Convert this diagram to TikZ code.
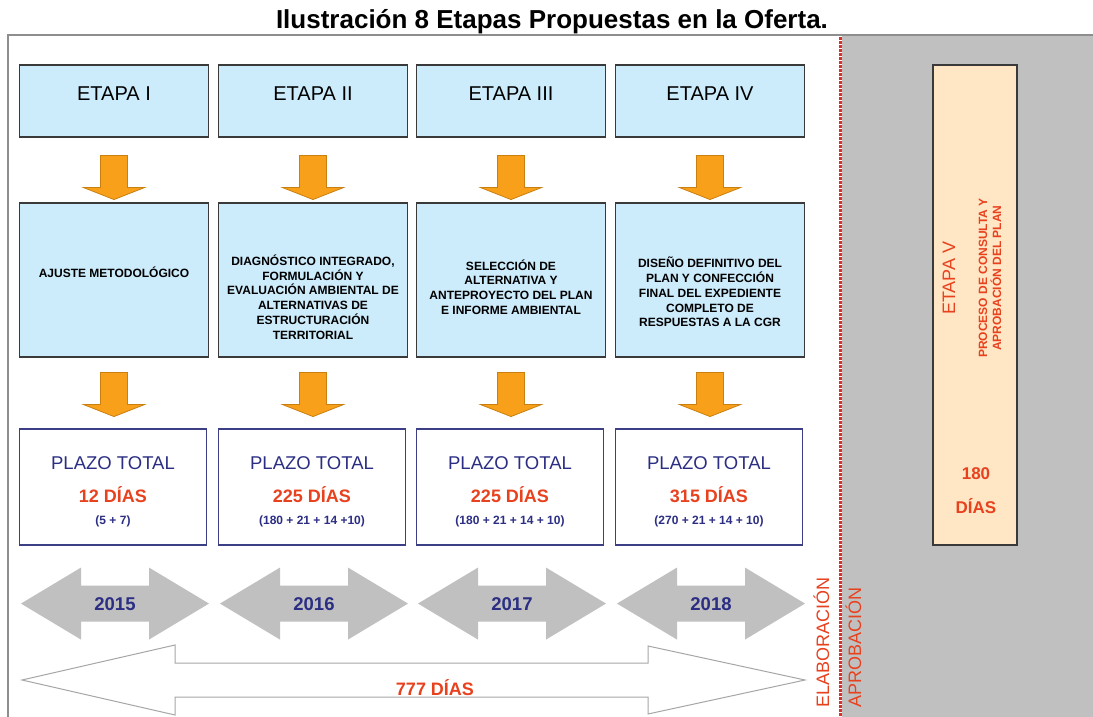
\documentclass[tikz,border=0pt]{standalone}
\usepackage{fontspec}
\setmainfont{Liberation Sans}
\usetikzlibrary{calc}
\definecolor{boxblue}{HTML}{CCEBFB}
\definecolor{boxline}{HTML}{3A3A3A}
\definecolor{navy}{HTML}{2B2E83}
\definecolor{navyline}{HTML}{3C3F85}
\definecolor{redtxt}{HTML}{E8411E}
\definecolor{orfill}{HTML}{F9A01B}
\definecolor{orline}{HTML}{C9800F}
\definecolor{yeargray}{HTML}{C0C0C0}
\definecolor{bggray}{HTML}{C0C0C0}
\definecolor{framegray}{HTML}{8E8E8E}
\definecolor{peach}{HTML}{FFE7C6}
\definecolor{dotred}{HTML}{D9302A}
\definecolor{outgray}{HTML}{A6A6A6}
\newcommand{\pxfont}[2]{\fontsize{#1}{#2}\selectfont}
\tikzset{
  topbox/.style={draw=boxline, fill=boxblue, line width=1.1pt, minimum width=189pt, minimum height=72pt, inner sep=0pt},
  midbox/.style={draw=boxline, fill=boxblue, line width=1.1pt, minimum width=189pt, minimum height=154pt, inner sep=0pt},
  botbox/.style={draw=navyline, fill=white, line width=1.1pt, minimum width=187pt, minimum height=116pt, inner sep=0pt},
  etapatxt/.style={inner sep=0pt, anchor=base, font=\pxfont{20}{24}, text=black},
  midtxt/.style={inner sep=0pt, align=center, font=\pxfont{12}{14.8}\bfseries, text=black},
  plazotxt/.style={inner sep=0pt, anchor=base, font=\pxfont{18.5}{22}, text=navy},
  diastxt/.style={inner sep=0pt, anchor=base, font=\pxfont{18}{22}\bfseries, text=redtxt},
  sumtxt/.style={inner sep=0pt, anchor=base, font=\pxfont{12}{14}\bfseries, text=navy},
  yeartxt/.style={inner sep=0pt, anchor=base, font=\pxfont{18.5}{22}\bfseries, text=navy},
  vredtxt/.style={inner sep=0pt, rotate=90, text=redtxt},
  orarr/.pic={\filldraw[draw=orline, fill=orfill, line width=0.8pt]
     (-13.5,0) -- (-13.5,-32) -- (-30.5,-32) -- (0,-44) -- (30.5,-32) -- (13.5,-32) -- (13.5,0) -- cycle;},
  yeararr/.pic={\fill[yeargray]
     (-94,0) -- (-34,36) -- (-34,18) -- (34,18) -- (34,36) -- (94,0) -- (34,-36) -- (34,-18) -- (-34,-18) -- (-34,-36) -- cycle;}
}
\begin{document}
\begin{tikzpicture}[x=1pt,y=1pt]
\useasboundingbox (0,0) rectangle (1093,-717);
\fill[white] (0,0) rectangle (1093,-717);

% title
\node[inner sep=0pt, anchor=base, font=\pxfont{26}{30}\bfseries] (title) at (552,-29) {Ilustración 8 Etapas Propuestas en la Oferta.};

% background region and frame
\fill[bggray] (842,-36) rectangle (1093,-717);
\draw[framegray, line width=2pt] (8,-717) -- (8,-35) -- (1093,-35);
\foreach \k in {0,...,170}{
  \fill[dotred] (838.6,{-37-4*\k}) rectangle (841.6,{-39.6-4*\k});
}

% top boxes
\node[topbox] (t1) at (114,-101) {};
\node[topbox] (t2) at (313,-101) {};
\node[topbox] (t3) at (511,-101) {};
\node[topbox] (t4) at (710,-101) {};
\node[etapatxt] (tt1) at (114,-100) {ETAPA I};
\node[etapatxt] (tt2) at (313,-100) {ETAPA II};
\node[etapatxt] (tt3) at (511,-100) {ETAPA III};
\node[etapatxt] (tt4) at (710,-100) {ETAPA IV};

% middle boxes
\node[midbox] (m1) at (114,-280) {};
\node[midbox] (m2) at (313,-280) {};
\node[midbox] (m3) at (511,-280) {};
\node[midbox] (m4) at (710,-280) {};
\node[midtxt] (mt1) at (114,-272) {AJUSTE METODOLÓGICO};
\node[midtxt] (mt2) at (313,-297) {DIAGNÓSTICO INTEGRADO,\\FORMULACIÓN Y\\EVALUACIÓN AMBIENTAL DE\\ALTERNATIVAS DE\\ESTRUCTURACIÓN\\TERRITORIAL};
\node[midtxt] (mt3) at (511,-287) {SELECCIÓN DE\\ALTERNATIVA Y\\ANTEPROYECTO DEL PLAN\\E INFORME AMBIENTAL};
\node[midtxt] (mt4) at (710,-292) {DISEÑO DEFINITIVO DEL\\PLAN Y CONFECCIÓN\\FINAL DEL EXPEDIENTE\\COMPLETO DE\\RESPUESTAS A LA CGR};

% bottom boxes
\node[botbox] (b1) at (113,-487) {};
\node[botbox] (b2) at (312,-487) {};
\node[botbox] (b3) at (510,-487) {};
\node[botbox] (b4) at (709,-487) {};
\foreach \i/\x/\d/\s in {1/113/12 DÍAS/(5 + 7), 2/312/225 DÍAS/(180 + 21 + 14 +10), 3/510/225 DÍAS/(180 + 21 + 14 + 10), 4/709/315 DÍAS/(270 + 21 + 14 + 10)}{
  \node[plazotxt] (p\i) at (\x,-469.6) {PLAZO TOTAL};
  \node[diastxt] (d\i) at (\x,-502.5) {\d};
  \node[sumtxt] (s\i) at (\x,-524) {\s};
}

% orange arrows
\foreach \i in {1,2,3,4}{
  \pic at ([yshift=-18pt]t\i.south) {orarr};
  \pic at ([yshift=-15pt]m\i.south) {orarr};
}

% year arrows
\foreach \i/\y in {1/2015,2/2016,3/2017,4/2018}{
  \pic at ([xshift=2pt,yshift=-58pt]b\i.south) {yeararr};
  \node[yeartxt] (y\i) at ([xshift=2pt,yshift=-64.6pt]b\i.south) {\y};
}

% 777 dias arrow
\filldraw[draw=outgray, fill=white, line width=1pt]
  (22,-680) -- (175,-645) -- (175,-663) -- (648,-663) -- (648,-646) -- (805,-680)
  -- (648,-714) -- (648,-697) -- (175,-697) -- (175,-715) -- cycle;
\node[diastxt] (total) at (435,-695.6) {777 DÍAS};

% vertical labels
\node[vredtxt, anchor=base west, font=\pxfont{18}{22}] (elab) at (829,-708) {ELABORACIÓN};
\node[vredtxt, anchor=base west, font=\pxfont{18}{22}] (aprob) at (861,-708) {APROBACIÓN};

% etapa V
\node[draw=boxline, fill=peach, line width=1.1pt, minimum width=84pt, minimum height=480pt, inner sep=0pt] (e5) at (975,-305) {};
\node[vredtxt, anchor=base, font=\pxfont{18}{22}] (e5t) at (955,-278) {ETAPA V};
\node[vredtxt, align=center, font=\pxfont{12}{14}\bfseries] (e5s) at (990,-278) {PROCESO DE CONSULTA Y\\APROBACIÓN DEL PLAN};
\node[inner sep=0pt, anchor=base, font=\pxfont{17}{20}\bfseries, text=redtxt] (e5d1) at (976,-479) {180};
\node[inner sep=0pt, anchor=base, font=\pxfont{17}{20}\bfseries, text=redtxt] (e5d2) at (976,-513) {DÍAS};
\end{tikzpicture}
\end{document}
